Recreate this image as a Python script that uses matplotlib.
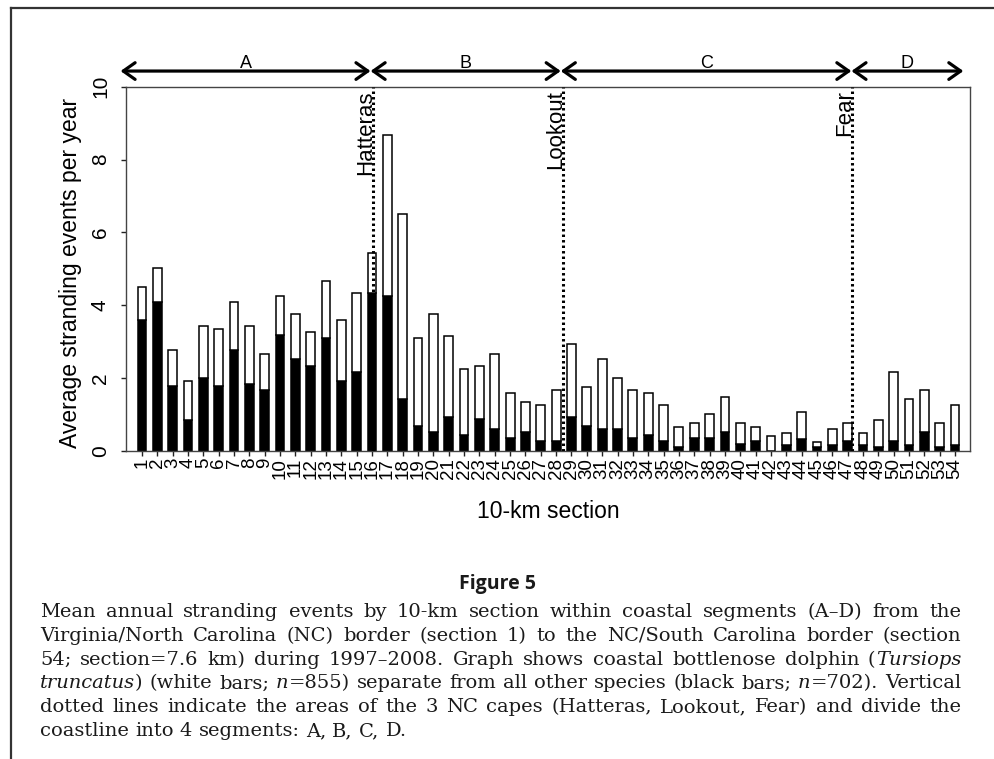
import matplotlib
matplotlib.use("Agg")
import matplotlib.pyplot as plt
from matplotlib.lines import Line2D

# ---------------- data ----------------
sections = list(range(1, 55))
other_species = [3.59, 4.09, 1.78, 0.84, 2.01, 1.78, 2.77, 1.84, 1.68, 3.18,
                 2.53, 2.34, 3.10, 1.92, 2.17, 4.34, 4.25, 1.43, 0.68, 0.51,
                 0.93, 0.43, 0.86, 0.60, 0.35, 0.51, 0.27, 0.27, 0.93, 0.68,
                 0.60, 0.60, 0.34, 0.43, 0.27, 0.09, 0.34, 0.34, 0.52, 0.18,
                 0.27, 0.00, 0.17, 0.33, 0.09, 0.17, 0.27, 0.17, 0.09, 0.27,
                 0.17, 0.51, 0.09, 0.17]
bottlenose = [0.92, 0.92, 0.99, 1.07, 1.41, 1.55, 1.31, 1.58, 0.98, 1.08,
              1.22, 0.92, 1.56, 1.67, 2.16, 1.08, 4.42, 5.06, 2.41, 3.24,
              2.23, 1.81, 1.48, 2.07, 1.23, 0.82, 0.98, 1.41, 2.00, 1.08,
              1.91, 1.40, 1.33, 1.16, 0.98, 0.57, 0.41, 0.67, 0.96, 0.57,
              0.39, 0.41, 0.33, 0.74, 0.16, 0.42, 0.48, 0.33, 0.75, 1.90,
              1.24, 1.16, 0.66, 1.08]
y_ticks = [0, 2, 4, 6, 8, 10]
cape_names = ["Hatteras", "Lookout", "Fear"]
cape_pos = [16.05, 28.45, 47.27]
segment_names = ["A", "B", "C", "D"]
segment_bounds = [-0.4, 15.9, 28.3, 47.25, 54.55]

caption_lines = [
    "Mean annual stranding events by 10-km section within coastal segments (A\u2013D) from the",
    "Virginia/North Carolina (NC) border (section 1) to the NC/South Carolina border (section",
    "54; section=7.6 km) during 1997\u20132008. Graph shows coastal bottlenose dolphin (*Tursiops*",
    "*truncatus*) (white bars; *n*=855) separate from all other species (black bars; *n*=702). Vertical",
    "dotted lines indicate the areas of the 3 NC capes (Hatteras, Lookout, Fear) and divide the",
    "coastline into 4 segments: A, B, C, D.",
]

# ---------------- figure ----------------
W, H = 995, 759
plt.rcParams["font.family"] = ["Liberation Sans", "DejaVu Sans"]
fig = plt.figure(figsize=(W / 100, H / 100), dpi=100)


def fx(px):
    return px / W


def fy(py):
    return 1 - py / H


ax = fig.add_axes([fx(126), fy(450.7), fx(970) - fx(126), fy(86.7) - fy(450.7)])
bw = 0.57
ax.bar(sections, other_species, width=bw, color="black", edgecolor="black",
       linewidth=1.1, zorder=2)
ax.bar(sections, bottlenose, width=bw, bottom=other_species, color="white",
       edgecolor="black", linewidth=1.1, zorder=2)
ax.set_xlim(-0.043, 54.98)
ax.set_ylim(0, 10)
ax.set_yticks(y_ticks)
ax.set_yticklabels([str(t) for t in y_ticks], rotation=90, va="center", fontsize=15)
ax.set_xticks(sections)
ax.set_xticklabels([str(s) for s in sections], rotation=90, fontsize=13.5)
ax.tick_params(axis="both", direction="out", length=3.6, width=1, color="#222222")
ax.tick_params(axis="y", pad=8)
ax.tick_params(axis="x", pad=1.5)
for sp in ax.spines.values():
    sp.set_color("#444444")
    sp.set_linewidth(1.0)

# cape lines and labels
for name, pos in zip(cape_names, cape_pos):
    ax.plot([pos, pos], [0, 10], color="black", lw=2.2, ls=(0, (0.8, 1.0)),
            zorder=3, dash_capstyle="butt")
    ax.annotate(name, xy=(pos, 10), xytext=(-1.5, -2.5), textcoords="offset points",
                rotation=90, rotation_mode="anchor", ha="right", va="baseline",
                fontsize=16, zorder=4)

# segment arrows
ya = 10.43
for i, name in enumerate(segment_names):
    x0, x1 = segment_bounds[i], segment_bounds[i + 1]
    ax.annotate("", xy=(x1, ya), xytext=(x0, ya), xycoords="data",
                annotation_clip=False,
                arrowprops=dict(arrowstyle="<->, head_length=0.85, head_width=0.6",
                                lw=2.3, color="black", shrinkA=0, shrinkB=0))
    ax.text((x0 + x1) / 2, 10.52, name, ha="center", va="baseline", fontsize=13,
            clip_on=False)

fig.text(fx(548), fy(512), "10-km section", ha="center", va="center", fontsize=16.5)
fig.text(fx(71), fy(273), "Average stranding events per year", rotation=90,
         ha="center", va="center", fontsize=16.5)

# border
fig.add_artist(Line2D([fx(11), fx(11)], [fy(8), 0], color="#333333", lw=1.6,
                      transform=fig.transFigure))
fig.add_artist(Line2D([fx(11), 1], [fy(8), fy(8)], color="#333333", lw=1.6,
                      transform=fig.transFigure))

fig.text(fx(498), fy(589), "Figure 5", ha="center", va="baseline", fontsize=14,
         fontweight="bold", family=["Open Sans", "DejaVu Sans"], color="#1a1a1a")

# ---------------- justified caption ----------------
SERIF = ["DejaVu Serif"]
fig.canvas.draw()
renderer = fig.canvas.get_renderer()


def parse_word(word):
    parts = word.split("*")
    segs = []
    for k, p in enumerate(parts):
        if p:
            segs.append((p, k % 2 == 1))
    return segs


def measure(s, italic, size):
    t = fig.text(0, 0, s, fontsize=size, family=SERIF,
                 style="italic" if italic else "normal")
    w = t.get_window_extent(renderer).width
    t.remove()
    return w


def word_width(segs, size):
    return sum(measure(s, it, size) for s, it in segs)


left_px, right_px = 40, 961
target = right_px - left_px
base_size = 12.0
space_w = measure("a a", False, base_size) - measure("aa", False, base_size)
nat = []
for line in caption_lines:
    words = [parse_word(w) for w in line.split(" ")]
    ww = sum(word_width(w, base_size) for w in words)
    nat.append(ww + space_w * (len(words) - 1))
cap_size = base_size * (target * 0.985) / max(nat[:-1])

space_w = measure("a a", False, cap_size) - measure("aa", False, cap_size)
y0 = 617
dy = 23.8
for li, line in enumerate(caption_lines):
    words = [parse_word(w) for w in line.split(" ")]
    widths = [word_width(w, cap_size) for w in words]
    if li < len(caption_lines) - 1:
        gap = (target - sum(widths)) / (len(words) - 1)
    else:
        gap = space_w
    x = left_px
    for segs, wdt in zip(words, widths):
        xx = x
        for s, it in segs:
            fig.text(fx(xx), fy(y0 + li * dy), s, fontsize=cap_size, family=SERIF,
                     style="italic" if it else "normal", ha="left", va="baseline",
                     color="#1a1a1a")
            xx += measure(s, it, cap_size)
        x += wdt + gap

fig.savefig("out.png", dpi=100)
